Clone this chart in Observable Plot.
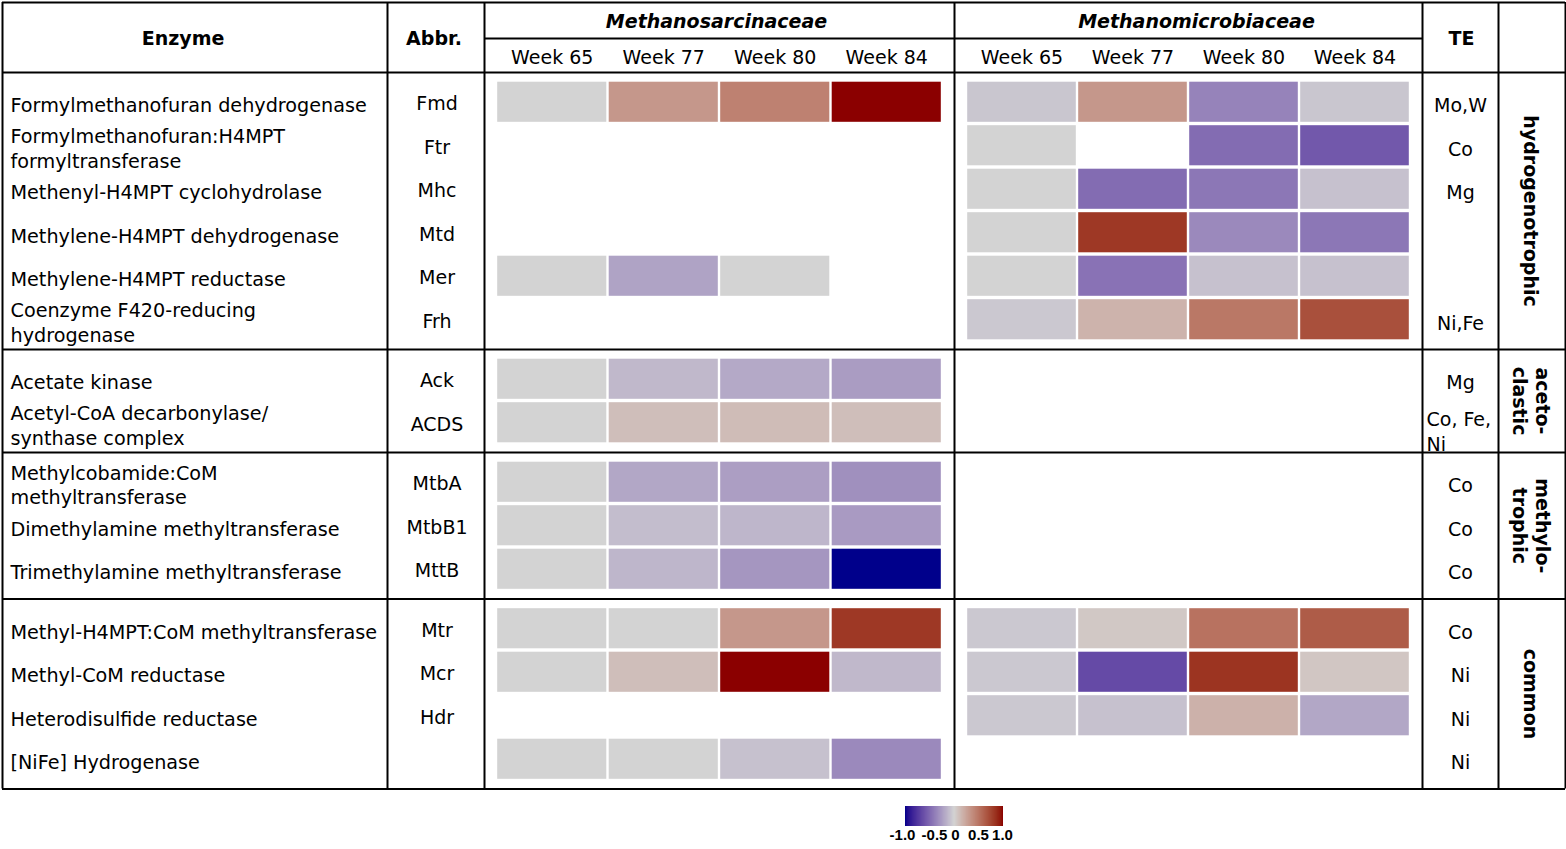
<!DOCTYPE html>
<html><head><meta charset="utf-8">
<script src="https://cdn.jsdelivr.net/npm/d3@7"></script>
<script src="https://cdn.jsdelivr.net/npm/@observablehq/plot@0.6"></script>
<style>
body{margin:0;background:#fff;}
#chart{position:absolute;left:0;top:0;}
#legend{position:absolute;left:900px;top:804px;}
#legend line{display:none;}
</style>
</head><body><div id="chart"></div><div id="legend"></div>
<script>
// ---------- data ----------
const families = ["Methanosarcinaceae", "Methanomicrobiaceae"];
const weeks = ["Week 65", "Week 77", "Week 80", "Week 84"];
const pathways = ["hydrogenotrophic", "aceto-\nclastic", "methylo-\ntrophic", "common"];
const pathwayRows = [6, 2, 3, 4];
const enzymes = [
  "Formylmethanofuran dehydrogenase",
  "Formylmethanofuran:H4MPT\nformyltransferase",
  "Methenyl-H4MPT cyclohydrolase",
  "Methylene-H4MPT dehydrogenase",
  "Methylene-H4MPT reductase",
  "Coenzyme F420-reducing\nhydrogenase",
  "Acetate kinase",
  "Acetyl-CoA decarbonylase/\nsynthase complex",
  "Methylcobamide:CoM\nmethyltransferase",
  "Dimethylamine methyltransferase",
  "Trimethylamine methyltransferase",
  "Methyl-H4MPT:CoM methyltransferase",
  "Methyl-CoM reductase",
  "Heterodisulfide reductase",
  "[NiFe] Hydrogenase"
];
const abbrs = ["Fmd","Ftr","Mhc","Mtd","Mer","Frh","Ack","ACDS","MtbA","MtbB1","MttB","Mtr","Mcr","Hdr",""];
const traceElements = ["Mo,W","Co","Mg","","","Ni,Fe","Mg","Co, Fe,\nNi","Co","Co","Co","Co","Ni","Ni","Ni"];
// values per enzyme row, weeks 65/77/80/84 (null = not detected)
const sarcinaceae = [
  [0, 0.32, 0.44, 1.0],
  [null, null, null, null],
  [null, null, null, null],
  [null, null, null, null],
  [0, -0.22, 0, null],
  [null, null, null, null],
  [0, -0.12, -0.19, -0.25],
  [0, 0.11, 0.12, 0.11],
  [0, -0.20, -0.24, -0.31],
  [0, -0.10, -0.13, -0.26],
  [0, -0.13, -0.28, -1.0],
  [0, 0, 0.32, 0.82],
  [0, 0.11, 1.0, -0.12],
  [null, null, null, null],
  [0, 0, -0.08, -0.34]
];
const microbiaceae = [
  [-0.06, 0.32, -0.37, -0.06],
  [0, null, -0.48, -0.58],
  [0, -0.48, -0.43, -0.08],
  [0, 0.82, -0.34, -0.43],
  [0, -0.45, -0.08, -0.08],
  [-0.05, 0.17, 0.49, 0.70],
  [null, null, null, null],
  [null, null, null, null],
  [null, null, null, null],
  [null, null, null, null],
  [null, null, null, null],
  [-0.05, 0.06, 0.52, 0.64],
  [-0.05, -0.65, 0.84, 0.07],
  [-0.05, -0.08, 0.18, -0.20],
  [null, null, null, null]
];
const legendTicks = [-1, -0.5, 0, 0.5, 1];

// ---------- layout ----------
const W = 1566, H = 795;
const colW = [385, 97, 470, 468, 76, 67];
const x0 = 2, y0 = 2, headH = 70, subH = 36, pitch = 43.5, gPad = 8, cPad = 12;
const edges = colW.reduce((a, w) => [...a, a[a.length - 1] + w], [x0]);
const headBottom = y0 + headH;
const gTops = [];
let t = headBottom;
pathwayRows.forEach(n => { gTops.push(t); t += n * pitch + 2 * gPad; });
const tableBottom = t;

const rows = [];
pathwayRows.forEach((n, g) => {
  for (let j = 0; j < n; j++) {
    const i = rows.length;
    const top = gTops[g] + gPad + j * pitch;
    rows.push({i, g, top, mid: top + pitch / 2, enzyme: enzymes[i], abbr: abbrs[i], te: traceElements[i]});
  }
});
const groupData = pathways.map((p, g) => ({p, y: gTops[g] + (pathwayRows[g] * pitch + 2 * gPad) / 2}));

const cells = [];
[sarcinaceae, microbiaceae].forEach((vals, f) => {
  const left = edges[2 + f], cw = (colW[2 + f] - 2 * cPad) / weeks.length;
  vals.forEach((r, i) => r.forEach((v, k) => {
    if (v === null) return;
    cells.push({family: families[f], week: weeks[k], enzyme: enzymes[i], v,
      x1: left + cPad + k * cw + 1.2, x2: left + cPad + (k + 1) * cw - 1.2,
      y1: rows[i].top + 1.7, y2: rows[i].top + pitch - 1.7});
  }));
});

const weekHeads = [];
families.forEach((fam, f) => {
  const left = edges[2 + f], cw = (colW[2 + f] - 2 * cPad) / weeks.length;
  weeks.forEach((w, k) => weekHeads.push({text: w, x: left + cPad + (k + 0.5) * cw}));
});
const famHeads = families.map((fam, f) => ({text: fam, x: edges[2 + f] + colW[2 + f] / 2 + (f ? 8 : -3)}));
const mainHeads = [
  {text: "Enzyme", x: (edges[0] + edges[1]) / 2 - 12},
  {text: "Abbr.", x: (edges[1] + edges[2]) / 2 - 2},
  {text: "TE", x: (edges[4] + edges[5]) / 2 + 1}
];

const colorScale = {type: "linear", domain: [-1, 0, 1], range: ["#00008b", "#d3d3d3", "#8b0000"], interpolate: "lab"};
const font = "DejaVu Sans";

const chart = Plot.plot({
  width: W, height: H,
  marginTop: 0, marginRight: 0, marginBottom: 0, marginLeft: 0,
  x: {domain: [0, W], range: [0, W], axis: null},
  y: {domain: [0, H], range: [0, H], axis: null},
  color: colorScale,
  style: {fontFamily: font, fontSize: "19px", color: "#000", background: "#fff"},
  marks: [
    Plot.rect(cells, {x1: "x1", x2: "x2", y1: "y1", y2: "y2", fill: "v"}),
    // header text
    Plot.text(mainHeads, {x: "x", y: y0 + headH / 2 + 1, text: "text", fontWeight: "bold", fontSize: 19, fill: "#000"}),
    Plot.text(famHeads, {x: "x", y: y0 + subH / 2 + 1, text: "text", fontWeight: "bold", fontStyle: "italic", fontSize: 19, fill: "#000"}),
    Plot.text(weekHeads, {x: "x", y: y0 + subH + (headH - subH) / 2 + 2, text: "text", fontSize: 19, fill: "#000"}),
    // rows
    Plot.text(rows, {x: edges[0] + 8, y: d => d.mid + 2, text: "enzyme", textAnchor: "start", lineHeight: 1.27, fontSize: 19.2, fill: "#000"}),
    Plot.text(rows, {x: (edges[1] + edges[2]) / 2 + 1, y: d => d.mid + 2, text: "abbr", fontSize: 19, fill: "#000"}),
    Plot.text(rows.filter(d => !d.te.includes("\n")), {x: (edges[4] + edges[5]) / 2, y: d => d.mid + 4, text: "te", fontSize: 19, fill: "#000"}),
    Plot.text(rows.filter(d => d.te.includes("\n")), {x: edges[4] + 4, y: d => d.mid + 8, text: "te", textAnchor: "start", lineHeight: 1.27, fontSize: 19, fill: "#000"}),
    Plot.text(groupData, {x: (edges[5] + edges[6]) / 2, y: "y", text: "p", rotate: 90, fontWeight: "bold", fontSize: 19, lineHeight: 1.25, fill: "#000"}),
    // grid lines
    Plot.ruleX(edges, {x: d => d, y1: y0, y2: tableBottom, stroke: "#000", strokeWidth: 2}),
    Plot.ruleY([y0, headBottom, ...gTops.slice(1), tableBottom], {y: d => d, x1: x0, x2: edges[edges.length - 1], stroke: "#000", strokeWidth: 2}),
    Plot.ruleY([y0 + subH], {y: d => d, x1: edges[2], x2: edges[4], stroke: "#000", strokeWidth: 2})
  ]
});
document.getElementById("chart").append(chart);

const legend = Plot.legend({
  color: colorScale,
  legend: "ramp",
  label: null,
  width: 108, height: 42,
  marginTop: 2, marginBottom: 20, marginLeft: 5, marginRight: 5,
  tickSize: 0,
  ticks: legendTicks,
  tickFormat: d => d === 0 ? "0" : d.toFixed(1),
  style: {fontFamily: "Liberation Sans", fontSize: "15px", fontWeight: "bold", color: "#000", overflow: "visible"}
});
// spread the tick labels slightly, as in the original
const labelShift = [-3, 4, 1, -1, -1];
d3.select(legend).selectAll(".tick text").attr("dx", (d, i) => labelShift[i] ?? 0).attr("fill", "#000");
document.getElementById("legend").append(legend);
</script>
</body></html>
